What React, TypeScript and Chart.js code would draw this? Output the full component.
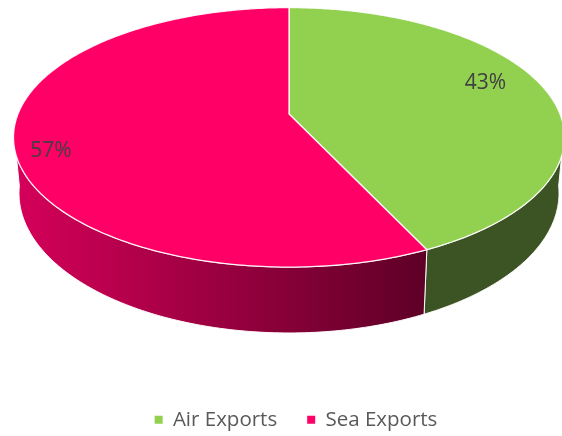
import React, { useEffect, useRef } from "react";
import { Chart, registerables } from "chart.js";

Chart.register(...registerables);

// ---- data ----
const categories = ["Air Exports", "Sea Exports"];
const values = [43, 57];
const percentLabels = ["43%", "57%"];

// ---- styles ----
const topColors = ["#92D050", "#FF0066"];
const FONT = "'Open Sans', 'Noto Sans', sans-serif";

// perspective projection of the tilted disk (screen px)
const SHIFT = 4; // canvas is placed SHIFT px lower
const CX = 289;
const A = 271;
const D = -105.74;
const E = 114 - SHIFT;
const G = 0.18;
const DEPTH = 54;
const BOTTOM_SHRINK = 0.02;
const LABEL_R = [0.8, 0.88];
const LABEL_ROT = (-6 * Math.PI) / 180;

function proj(u: number, w: number, z: number): [number, number] {
  const den = 1 + G * w;
  return [CX + (A * (1 - BOTTOM_SHRINK * z) * u) / den, (D * w + E + DEPTH * z) / den];
}
function rimPoint(alpha: number, r: number, z: number) {
  return proj(r * Math.cos(alpha), -r * Math.sin(alpha), z);
}

const pie3d = {
  id: "pie3d",
  beforeDatasetsDraw(chart: any) {
    const ctx: CanvasRenderingContext2D = chart.ctx;
    const meta = chart.getDatasetMeta(0);
    const arcs = meta.data.map((el: any) => ({
      s: el.startAngle as number,
      e: el.endAngle as number,
    }));
    const visS = Math.asin(G) - 0.05;
    const visE = Math.PI - Math.asin(G) + 0.05;

    ctx.save();
    // side walls
    arcs.forEach((a: any, i: number) => {
      const s = Math.max(a.s, visS);
      const e = Math.min(a.e, visE);
      if (e <= s) return;
      const N = 120;
      ctx.beginPath();
      for (let k = 0; k <= N; k++) {
        const t = s + ((e - s) * k) / N;
        const [x, y] = rimPoint(t, 1, 0);
        if (k === 0) ctx.moveTo(x, y);
        else ctx.lineTo(x, y);
      }
      for (let k = N; k >= 0; k--) {
        const t = s + ((e - s) * k) / N;
        const [x, y] = rimPoint(t, 1, 1);
        ctx.lineTo(x, y);
      }
      ctx.closePath();
      if (i === 0) {
        ctx.fillStyle = "#3C5323";
      } else {
        const g = ctx.createLinearGradient(12, 0, 425, 0);
        g.addColorStop(0, "#D6005A");
        g.addColorStop(1, "#5E0026");
        ctx.fillStyle = g;
      }
      ctx.fill();
      ctx.strokeStyle = "rgba(255,255,255,0.95)";
      ctx.lineWidth = 1;
      ctx.stroke();
    });

    // top faces
    arcs.forEach((a: any, i: number) => {
      const N = 240;
      ctx.beginPath();
      const [cx0, cy0] = proj(0, 0, 0);
      ctx.moveTo(cx0, cy0);
      for (let k = 0; k <= N; k++) {
        const t = a.s + ((a.e - a.s) * k) / N;
        const [x, y] = rimPoint(t, 1, 0);
        ctx.lineTo(x, y);
      }
      ctx.closePath();
      ctx.fillStyle = topColors[i];
      ctx.fill();
      ctx.strokeStyle = "rgba(255,255,255,0.9)";
      ctx.lineWidth = 1.3;
      ctx.lineJoin = "round";
      ctx.stroke();
    });

    // labels
    ctx.fillStyle = "#404040";
    ctx.font = `21px ${FONT}`;
    ctx.textAlign = "center";
    ctx.textBaseline = "middle";
    arcs.forEach((a: any, i: number) => {
      const mid = (a.s + a.e) / 2 + LABEL_ROT;
      const [x, y] = rimPoint(mid, LABEL_R[i], 0);
      ctx.fillText(percentLabels[i], x, y);
    });
    ctx.restore();
    return false;
  },
};

export default function App() {
  const ref = useRef<HTMLCanvasElement | null>(null);
  useEffect(() => {
    document.body.style.margin = "0";
    document.body.style.overflow = "hidden";
    if (!ref.current) return;
    const chart = new Chart(ref.current, {
      type: "pie",
      data: {
        labels: categories,
        datasets: [
          {
            data: values,
            backgroundColor: topColors,
            borderWidth: 0,
          },
        ],
      },
      options: {
        animation: false,
        responsive: true,
        maintainAspectRatio: false,
        layout: { padding: { left: 30 } },
        plugins: {
          tooltip: { enabled: false },
          legend: {
            position: "bottom",
            labels: {
              boxWidth: 8,
              boxHeight: 8,
              padding: 30,
              color: "#595959",
              font: { family: FONT, size: 20.5 },
            },
          },
        },
      } as any,
      plugins: [pie3d as any],
    });
    return () => chart.destroy();
  }, []);
  return (
    <div style={{ position: "fixed", left: 0, top: SHIFT, width: 562, height: 436, background: "#fff" }}>
      <canvas ref={ref} />
    </div>
  );
}
